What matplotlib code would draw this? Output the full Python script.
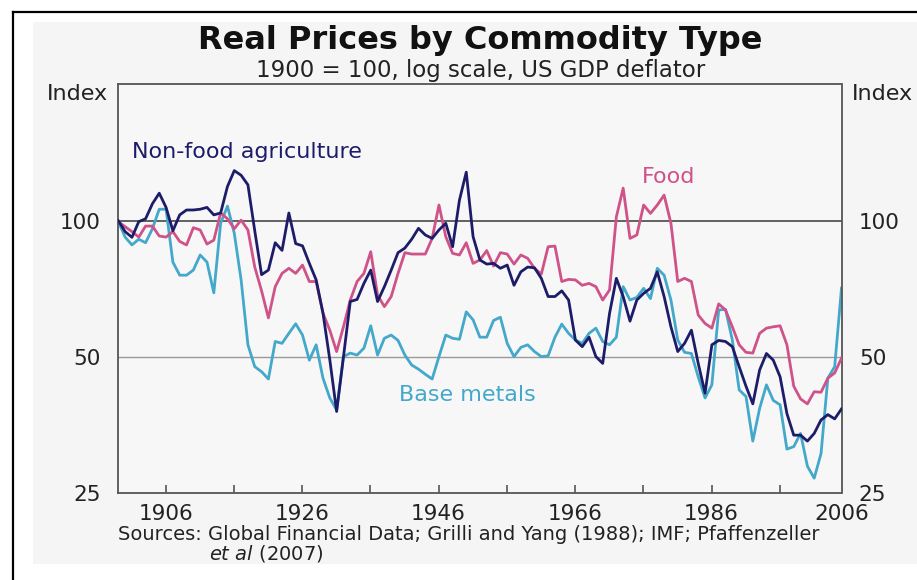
import numpy as np
import matplotlib
matplotlib.use("Agg")
import matplotlib.pyplot as plt
from matplotlib.patches import Rectangle
from matplotlib.lines import Line2D
from matplotlib.ticker import NullLocator, FixedLocator

years = np.arange(1900, 2007)

non_food = [100, 94.6, 91.9, 99.5, 101, 109, 115, 107, 95, 103,
            105.6, 105.6, 106, 107, 103, 104, 119, 129, 126, 120,
            95, 76, 77.8, 89.4, 86, 104, 89, 88, 80.5, 74,
            62.5, 49.3, 37.9, 50, 66.3, 67, 72.7, 77.8, 66.3, 71.5,
            77.8, 85, 87, 91, 96.2, 93, 91.4, 95.4, 98.7, 87.6,
            111, 128, 92.2, 81.9, 80.2, 80.5, 78.5, 79.8, 72, 77.1,
            79, 78.7, 74.6, 68, 68, 70, 66.8, 54.5, 52.7, 55.3,
            50.1, 48.4, 62.4, 74.6, 68, 60, 66.8, 69.1, 70.9, 77.1,
            68, 58.3, 51.4, 53.6, 57.3, 48.4, 41.6, 53.2, 54.4, 54.1,
            52.7, 47.6, 43.1, 39.4, 46.8, 50.9, 49.2, 45.2, 37.5, 33.6,
            33.6, 32.6, 33.9, 36.3, 37.3, 36.5, 38.4]

food = [99.5, 97, 94.6, 92, 97.3, 97.3, 92.5, 92, 94.6, 90,
        88.4, 96.5, 95.4, 88.8, 90.6, 104, 101, 96, 100.3, 95.4,
        79, 70, 61, 71.5, 76.5, 78.5, 76.5, 79.8, 73.4, 73.4,
        62.5, 57.3, 51.4, 58.3, 66.8, 73.4, 76.5, 85.4, 68.5, 64.6,
        68, 76.5, 85, 84.4, 84.4, 84.4, 91.4, 108.3, 92.2, 84.7,
        84, 89.4, 80.5, 81.9, 85.9, 79.4, 85, 84.4, 80.2, 84,
        82.6, 78.5, 76.2, 87.6, 87.9, 73.4, 74.2, 74, 72, 72.7,
        71.5, 66.8, 70.3, 102, 118, 91.4, 93, 108.3, 103.8, 108.3,
        113.9, 98.7, 73.4, 74.6, 73.4, 61.9, 59.3, 57.9, 65.5, 63.5,
        58.3, 53.2, 51.2, 51, 56.4, 57.9, 58.3, 58.6, 53.2, 43.1,
        40.4, 39.4, 41.9, 41.8, 44.9, 46.1, 49.7]

base_metals = [99.5, 92, 88.4, 91, 89.4, 96, 106, 106, 81, 75.8,
               75.8, 77.8, 84, 81, 69.3, 98.7, 107.7, 93.8, 74, 53.2,
               47.6, 46.4, 44.7, 54.1, 53.6, 56.4, 59.2, 55.9, 49.2, 53.2,
               44.9, 40.6, 38.2, 50.1, 51, 50.5, 52.3, 58.6, 50.5, 55,
               55.9, 54.4, 50.5, 48, 47, 45.8, 44.7, 50.1, 55.9, 55,
               54.7, 62.9, 60.4, 55.3, 55.3, 60.2, 61.2, 53.6, 50.1, 52.5,
               53.2, 51.4, 50.1, 50.3, 55.3, 59.1, 56.4, 54.5, 53.6, 56.4,
               57.9, 54.1, 53.2, 55.3, 71.5, 66.8, 67.7, 70.9, 67.3, 78.5,
               75.8, 66.8, 54.5, 51.2, 50.9, 45.2, 40.6, 43.4, 63.5, 63.7,
               54.5, 42.3, 40.9, 32.6, 38.5, 43.4, 40.1, 39.2, 31.3, 31.7,
               33.9, 28.7, 27.0, 30.6, 44.9, 47.6, 71]

y_ticks = [25, 50, 100]
x_tick_years = np.arange(1906, 2000, 10)
x_labels = ['1906', '', '1926', '', '1946', '', '1966', '', '1986', '']

navy = '#1d1c68'
pink = '#cf5289'
blue = '#43a8ca'
grey_txt = '#222222'

fig = plt.figure(figsize=(9.17, 5.80), dpi=100)

# grey panel + black frame
fig.patches.append(Rectangle((33/917, 16/580), 1, (564-22)/580, transform=fig.transFigure,
                             facecolor='#f5f5f5', edgecolor='none', zorder=-5))
fig.lines.append(Line2D([12.7/917, 12.7/917], [0, 1-11.7/580], transform=fig.transFigure,
                        color='black', lw=1.6, zorder=-4))
fig.lines.append(Line2D([12.7/917, 1], [1-11.7/580, 1-11.7/580], transform=fig.transFigure,
                        color='black', lw=1.6, zorder=-4))

ax = fig.add_axes([118.3/917, (580-493.3)/580, (841.5-118.3)/917, (493.3-84.4)/580])
ax.set_facecolor('#f7f7f7')
ax.set_yscale('log')
ax.set_ylim(25, 200)
ax.set_xlim(1900, 2006)

ax.axhline(100, color='#555555', lw=1.3, zorder=1)
ax.axhline(50, color='#9a9a9a', lw=1.0, zorder=1)

ax.plot(years, base_metals, color=blue, lw=2.0, zorder=2)
ax.plot(years, food, color=pink, lw=2.0, zorder=3)
ax.plot(years, non_food, color=navy, lw=2.0, zorder=4)

ax.yaxis.set_major_locator(FixedLocator(y_ticks))
ax.yaxis.set_minor_locator(NullLocator())
ax.set_yticklabels([str(v) for v in y_ticks])
ax.tick_params(axis='y', which='both', left=False, right=False,
               labelleft=True, labelright=True, labelsize=15.5, colors=grey_txt)
ax.yaxis.set_tick_params(pad=9)

# ticks sit a little to the right of the year points in the original
ax.set_xticks(x_tick_years + 0.95, x_labels)
ax.xaxis.set_minor_locator(NullLocator())
ax.tick_params(axis='x', direction='in', length=6, width=1.2, color='#555555',
               labelsize=15.5, labelcolor=grey_txt, pad=8)
ax.text(2006, -0.026, '2006', transform=ax.get_xaxis_transform(), ha='center', va='top',
        fontsize=15.5, color=grey_txt)

for sp in ax.spines.values():
    sp.set_color('#555555')
    sp.set_linewidth(1.3)

# titles
fig.text(480/917, 1-40/580, 'Real Prices by Commodity Type', ha='center', va='center',
         fontsize=23, fontweight='bold', color='#111111')
fig.text(481/917, 1-70/580, '1900 = 100, log scale, US GDP deflator', ha='center', va='center',
         fontsize=16.5, color=grey_txt)
fig.text(108/917, 1-94/580, 'Index', ha='right', va='center', fontsize=16, color=grey_txt)
fig.text(852/917, 1-94/580, 'Index', ha='left', va='center', fontsize=16, color=grey_txt)

# series labels
ax.text(1902, 141.8, 'Non-food agriculture', color=navy, fontsize=16, ha='left', va='center')
ax.text(1980.7, 125, 'Food', color=pink, fontsize=16, ha='center', va='center')
ax.text(1951.1, 41.3, 'Base metals', color=blue, fontsize=16, ha='center', va='center')

# sources
fig.text(118/917, 1-535/580, 'Sources: Global Financial Data; Grilli and Yang (1988); IMF; Pfaffenzeller',
         ha='left', va='center', fontsize=14, color=grey_txt)
fig.text(209/917, 1-554/580, r'$\it{et\ al}$ (2007)', ha='left', va='center',
         fontsize=14, color=grey_txt)

fig.savefig('out.png', dpi=100)
